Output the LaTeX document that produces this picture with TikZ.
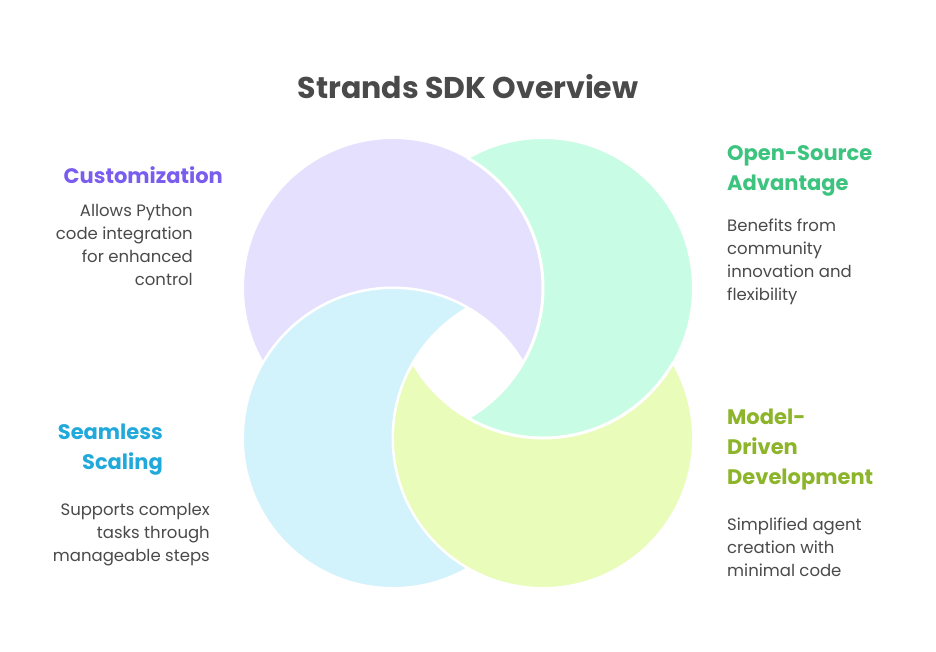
\documentclass[tikz,border=0pt]{standalone}
\usepackage{fontspec}
\setmainfont{Poppins}
\definecolor{cpur}{HTML}{E6E0FF}
\definecolor{cgrn}{HTML}{C9FCE4}
\definecolor{cblu}{HTML}{D2F3FC}
\definecolor{cyel}{HTML}{E9FCB9}
\definecolor{tpur}{HTML}{7A5CEE}
\definecolor{tgrn}{HTML}{3CC47F}
\definecolor{tblu}{HTML}{22A9DB}
\definecolor{tyel}{HTML}{8DB52A}
\definecolor{tbody}{HTML}{4A4A4A}
\begin{document}
\begin{tikzpicture}[x=1pt,y=-1pt,
  head/.style={font=\fontsize{21}{30}\selectfont\bfseries,inner sep=0pt},
  body/.style={font=\fontsize{16.5}{23}\selectfont,text=tbody,inner sep=0pt}]
\useasboundingbox (0,0) rectangle (936,651);
\fill[white] (0,0) rectangle (936,651);
\def\R{150}
\newcommand{\petal}[3]{% center, cut center, colour
  \begin{scope}[even odd rule]
    \clip (-100,-100) rectangle (1100,800) (#2) circle (\R);
    \fill[#3] (#1) circle (\R);
    \draw[white,line width=2pt] (#1) circle (\R);
  \end{scope}
  \begin{scope}
    \clip (#1) circle (\R);
    \draw[white,line width=3pt] (#2) circle (\R);
  \end{scope}}
\coordinate (P) at (393,288);
\coordinate (G) at (543,288);
\coordinate (B) at (393,438);
\coordinate (Y) at (543,438);
\petal{P}{B}{cpur}
\petal{G}{P}{cgrn}
\petal{B}{Y}{cblu}
\petal{Y}{G}{cyel}
\node[font=\fontsize{30}{34}\selectfont\bfseries,text=tbody] (title) at (468,87) {Strands SDK Overview};
\node[head,text=tpur,anchor=east] (h1) at (223,175) {Customization};
\node[body,anchor=north east,align=right] (b1) at (193,204) {Allows Python\\code integration\\for enhanced\\control};
\node[head,text=tgrn,anchor=north west,align=left] (h2) at (727,145) {Open-Source\\Advantage};
\node[body,anchor=north west,align=left] (b2) at (727,219) {Benefits from\\community\\innovation and\\flexibility};
\node[head,text=tblu,anchor=north east,align=right] (h3) at (163,424) {Seamless\\Scaling};
\node[body,anchor=north east,align=right] (b3) at (210,503) {Supports complex\\tasks through\\manageable steps};
\node[head,text=tyel,anchor=north west,align=left] (h4) at (727,409) {Model-\\Driven\\Development};
\node[body,anchor=north west,align=left] (b4) at (727,518) {Simplified agent\\creation with\\minimal code};
\end{tikzpicture}
\end{document}
